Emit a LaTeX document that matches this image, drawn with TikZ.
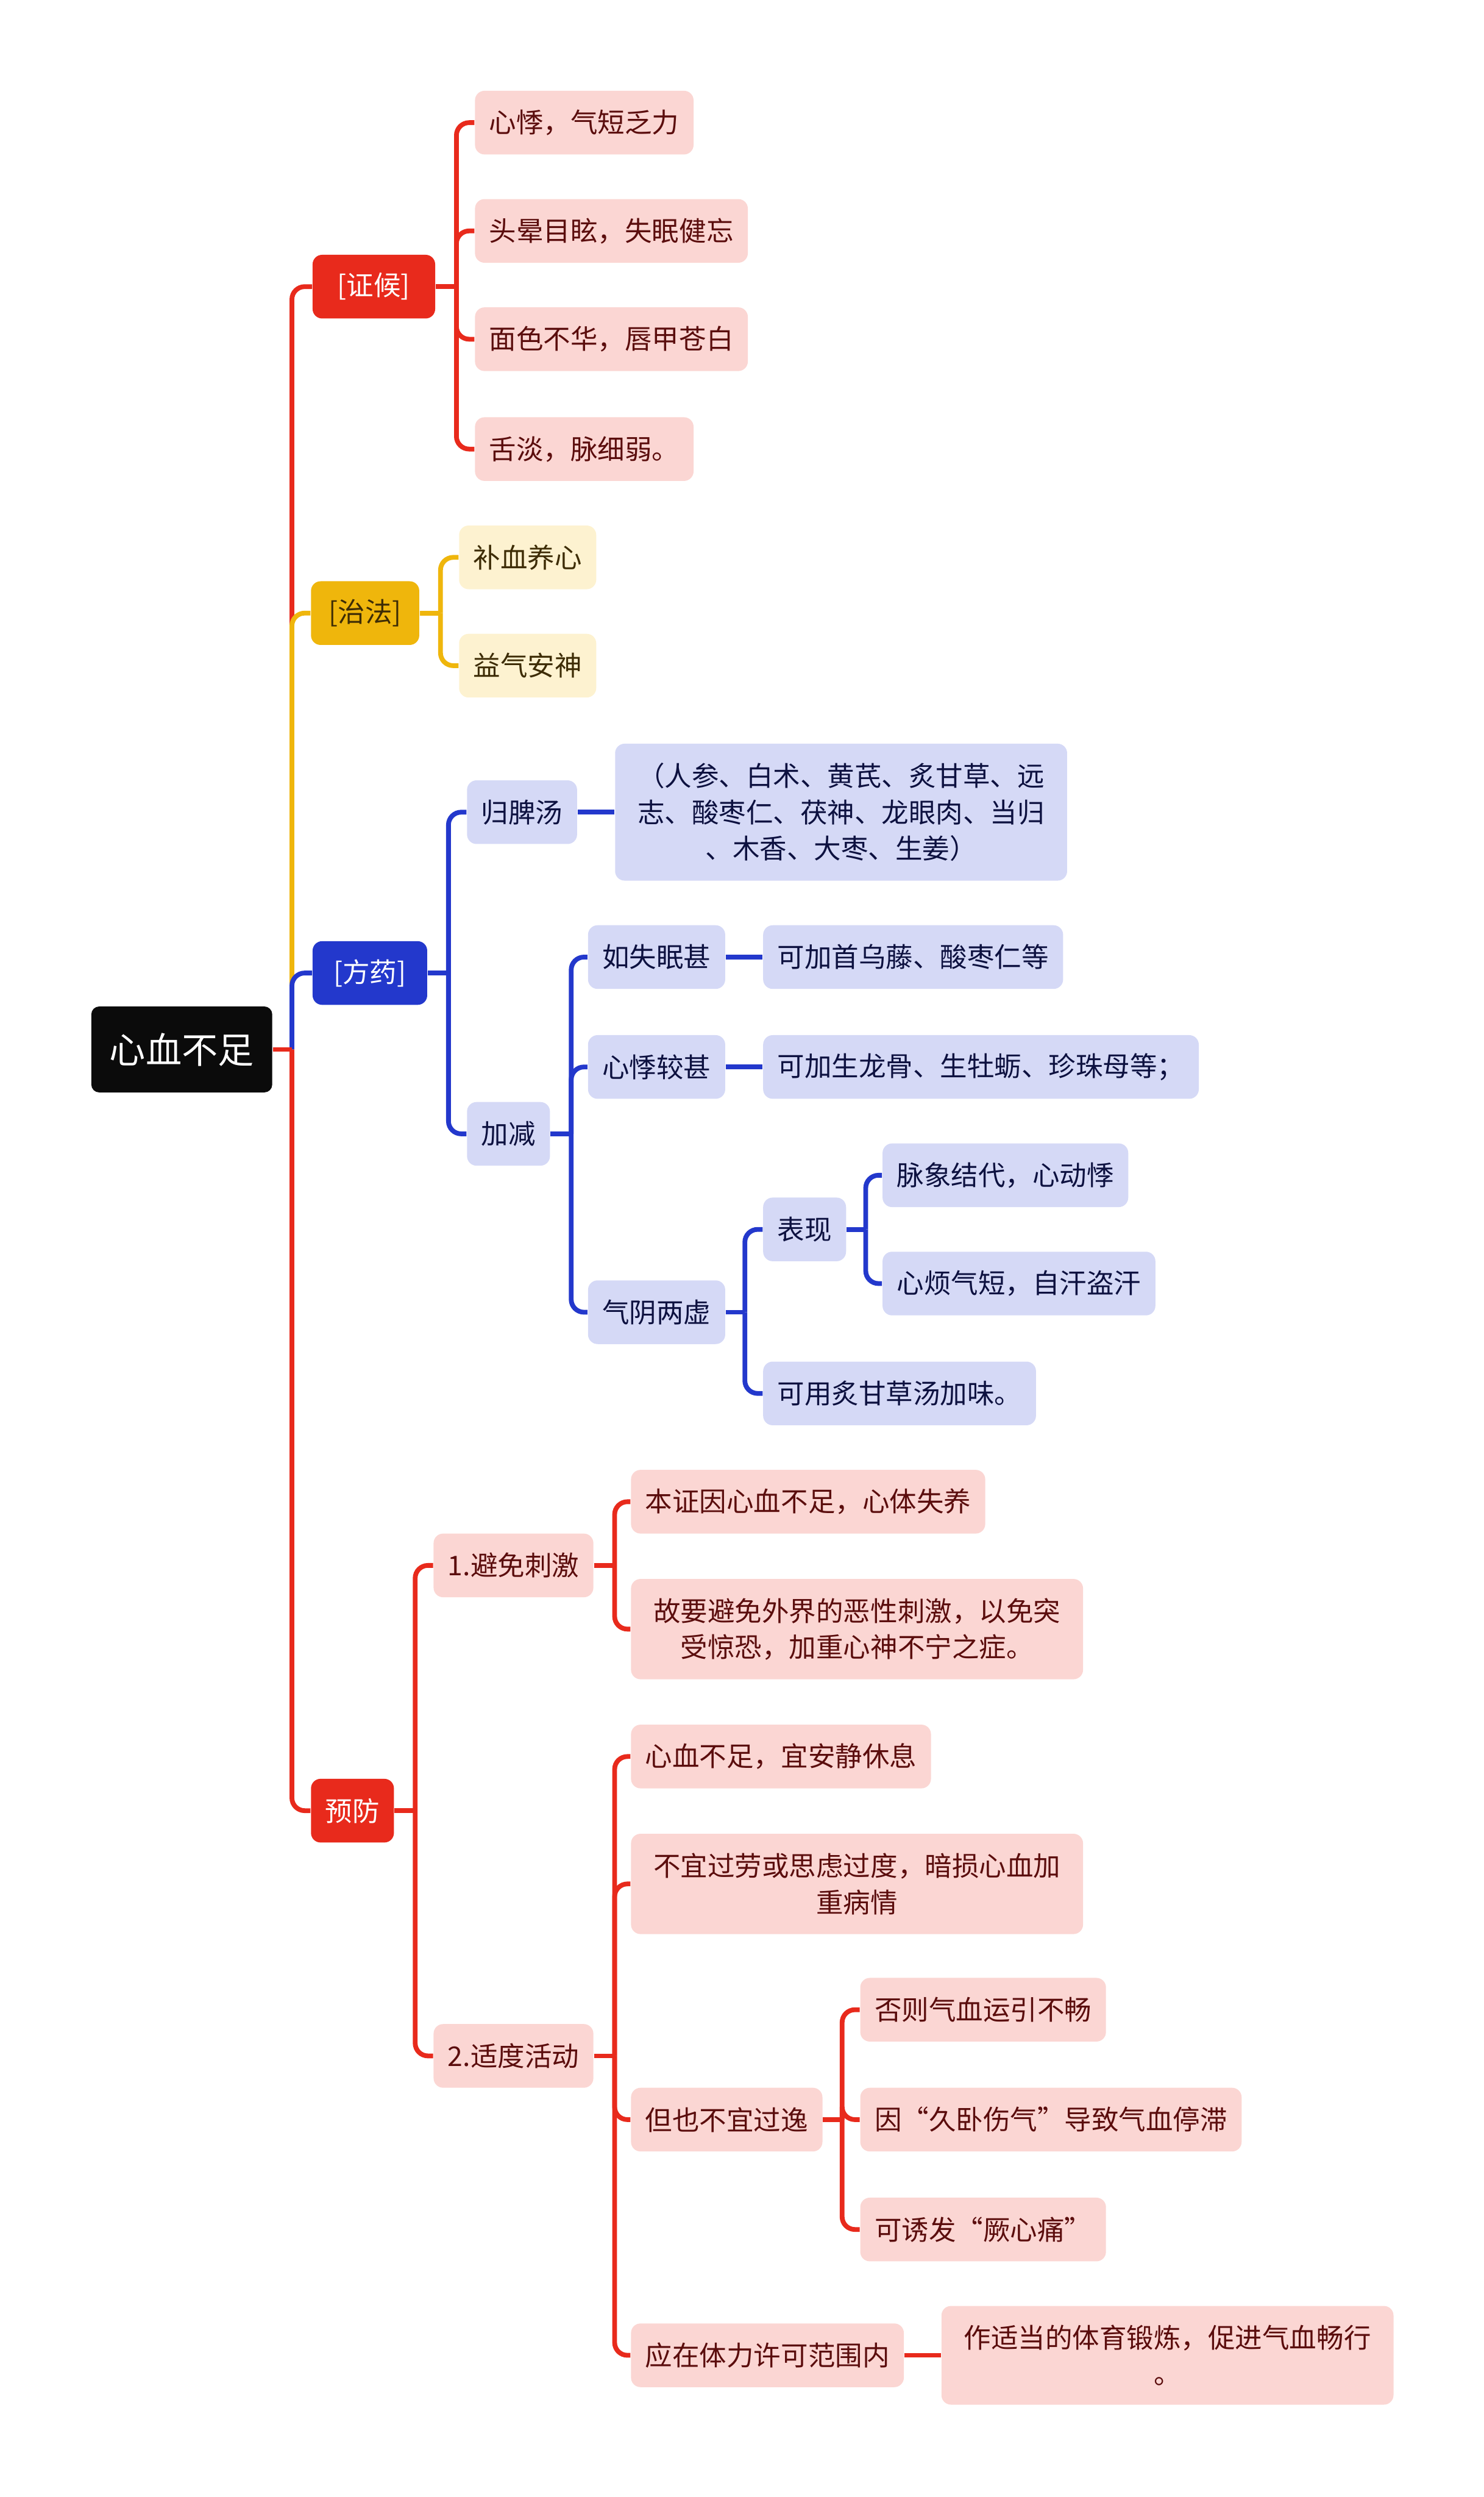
\documentclass[tikz,border=0pt]{standalone}
\usepackage{fontspec}
\setmainfont{Noto Sans CJK SC}

\definecolor{rootblack}{HTML}{0B0B0B}
\definecolor{linered}{HTML}{E82A1C}
\definecolor{lineyellow}{HTML}{EFB60C}
\definecolor{lineblue}{HTML}{2338CC}
\definecolor{leafred}{HTML}{FBD6D3}
\definecolor{leafyellow}{HTML}{FDF2D0}
\definecolor{leafblue}{HTML}{D5D9F6}
\definecolor{textred}{HTML}{5B0D0D}
\definecolor{textyellow}{HTML}{3D2C05}
\definecolor{textblue}{HTML}{0D1140}

\begin{document}
\begin{tikzpicture}[
    x=0.02cm, y=-0.02cm,
    font=\fontsize{9.7pt}{13pt}\selectfont,
    % Box Styles
    box/.style={
        rectangle, rounded corners=0.12cm, inner xsep=0.18cm, inner ysep=0pt,
        minimum height=0.8cm, align=center, anchor=west
    },
    rootbox/.style={box, fill=rootblack, text=white, rounded corners=0.1cm,
        minimum height=1.08cm, inner xsep=0.23cm, font=\fontsize{12.9pt}{15pt}\selectfont},
    redhead/.style={box, fill=linered, text=white},
    yellowhead/.style={box, fill=lineyellow, text=textyellow},
    bluehead/.style={box, fill=lineblue, text=white},
    redleaf/.style={box, fill=leafred, text=textred},
    yellowleaf/.style={box, fill=leafyellow, text=textyellow},
    blueleaf/.style={box, fill=leafblue, text=textblue},
    wide/.style={minimum width=5.68cm},
    % Line Styles
    redline/.style={draw=linered, line width=1.7pt, rounded corners=0.16cm},
    yellowline/.style={draw=lineyellow, line width=1.7pt, rounded corners=0.16cm},
    blueline/.style={draw=lineblue, line width=1.7pt, rounded corners=0.16cm}
]
    \useasboundingbox (0,0) rectangle (932,1568);

    % --- ROOT ---
    \node[rootbox] (root) at (57,659) {心血不足};

    % --- MAIN BRANCHES ---
    \node[redhead, minimum width=1.54cm] (zh) at (196,180) {[证候]};
    \node[yellowhead, minimum width=1.36cm] (zf) at (195,385) {[治法]};
    \node[bluehead, minimum width=1.44cm] (fy) at (196,611) {[方药]};
    \node[redhead] (yf) at (195,1137) {预防};

    % --- ZHENGHOU ---
    \node[redleaf] (zh1) at (298,77) {心悸，气短乏力};
    \node[redleaf] (zh2) at (298,145) {头晕目眩，失眠健忘};
    \node[redleaf] (zh3) at (298,213) {面色不华，唇甲苍白};
    \node[redleaf] (zh4) at (298,282) {舌淡，脉细弱。};

    % --- ZHIFA ---
    \node[yellowleaf] (zf1) at (288,350) {补血养心};
    \node[yellowleaf] (zf2) at (288,418) {益气安神};

    % --- FANGYAO ---
    \node[blueleaf] (gp) at (293,510) {归脾汤};
    \node[blueleaf, wide, minimum height=1.72cm] (gpy) at (386,510)
        {（人参、白术、黄芪、炙甘草、远\\志、酸枣仁、茯神、龙眼肉、当归\\、木香、大枣、生姜）};
    \node[blueleaf] (jj) at (293,712) {加减};
    \node[blueleaf] (jj1) at (369,601) {如失眠甚};
    \node[blueleaf] (jj1a) at (479,601) {可加首乌藤、酸枣仁等};
    \node[blueleaf] (jj2) at (369,670) {心悸较甚};
    \node[blueleaf] (jj2a) at (479,670) {可加生龙骨、生牡蛎、珍珠母等；};
    \node[blueleaf] (jj3) at (369,824) {气阴两虚};
    \node[blueleaf] (bx) at (479,772) {表现};
    \node[blueleaf] (bx1) at (554,738) {脉象结代，心动悸};
    \node[blueleaf] (bx2) at (554,806) {心烦气短，自汗盗汗};
    \node[blueleaf] (zg) at (479,875) {可用炙甘草汤加味。};

    % --- YUFANG ---
    \node[redleaf] (bm) at (272,983) {1.避免刺激};
    \node[redleaf] (bm1) at (396,943) {本证因心血不足，心体失养};
    \node[redleaf, wide, minimum height=1.26cm] (bm2) at (396,1023)
        {故要避免外界的恶性刺激，以免突\\受惊恐，加重心神不宁之症。};
    \node[redleaf] (hd) at (272,1291) {2.适度活动};
    \node[redleaf] (hd1) at (396,1103) {心血不足，宜安静休息};
    \node[redleaf, wide, minimum height=1.26cm] (hd2) at (396,1183)
        {不宜过劳或思虑过度，暗损心血加\\重病情};
    \node[redleaf] (hd3) at (396,1331) {但也不宜过逸};
    \node[redleaf] (hd3a) at (540,1262) {否则气血运引不畅};
    \node[redleaf] (hd3b) at (540,1331) {因“久卧伤气”导致气血停滞};
    \node[redleaf] (hd3c) at (540,1400) {可诱发“厥心痛”};
    \node[redleaf] (hd4) at (396,1479) {应在体力许可范围内};
    \node[redleaf, wide, minimum height=1.24cm] (hd4a) at (591,1479)
        {作适当的体育锻炼，促进气血畅行\\。};

    % --- CONNECTORS ---
    % Root
    \draw[redline] (root.east) ++(12,0) |- (zh.west);
    \draw[redline] (root.east) ++(12,0) |- (yf.west);
    \draw[yellowline] (root.east) ++(12,0) |- (zf.west);
    \draw[blueline] (root.east) ++(12,0) |- (fy.west);
    \draw[redline] (root.east) -- ++(12,0);

    % Zhenghou / Zhifa
    \foreach \c in {zh1, zh2, zh3, zh4}
        \draw[redline] (zh.east) ++(13,0) |- (\c.west);
    \draw[redline] (zh.east) -- ++(13,0);
    \foreach \c in {zf1, zf2}
        \draw[yellowline] (zf.east) ++(13,0) |- (\c.west);
    \draw[yellowline] (zf.east) -- ++(13,0);

    % Fangyao
    \foreach \c in {gp, jj}
        \draw[blueline] (fy.east) ++(13,0) |- (\c.west);
    \draw[blueline] (fy.east) -- ++(13,0);
    \draw[blueline] (gp.east) -- (gpy.west);
    \foreach \c in {jj1, jj2, jj3}
        \draw[blueline] (jj.east) ++(13,0) |- (\c.west);
    \draw[blueline] (jj.east) -- ++(13,0);
    \draw[blueline] (jj1.east) -- (jj1a.west);
    \draw[blueline] (jj2.east) -- (jj2a.west);
    \foreach \c in {bx, zg}
        \draw[blueline] (jj3.east) ++(12,0) |- (\c.west);
    \draw[blueline] (jj3.east) -- ++(12,0);
    \foreach \c in {bx1, bx2}
        \draw[blueline] (bx.east) ++(12,0) |- (\c.west);
    \draw[blueline] (bx.east) -- ++(12,0);

    % Yufang
    \foreach \c in {bm, hd}
        \draw[redline] (yf.east) ++(13,0) |- (\c.west);
    \draw[redline] (yf.east) -- ++(13,0);
    \foreach \c in {bm1, bm2}
        \draw[redline] (bm.east) ++(13,0) |- (\c.west);
    \draw[redline] (bm.east) -- ++(13,0);
    \foreach \c in {hd1, hd2, hd3, hd4}
        \draw[redline] (hd.east) ++(13,0) |- (\c.west);
    \draw[redline] (hd.east) -- ++(13,0);
    \foreach \c in {hd3a, hd3b, hd3c}
        \draw[redline] (hd3.east) ++(12,0) |- (\c.west);
    \draw[redline] (hd3.east) -- ++(12,0);
    \draw[redline] (hd4.east) -- (hd4a.west);

\end{tikzpicture}
\end{document}
